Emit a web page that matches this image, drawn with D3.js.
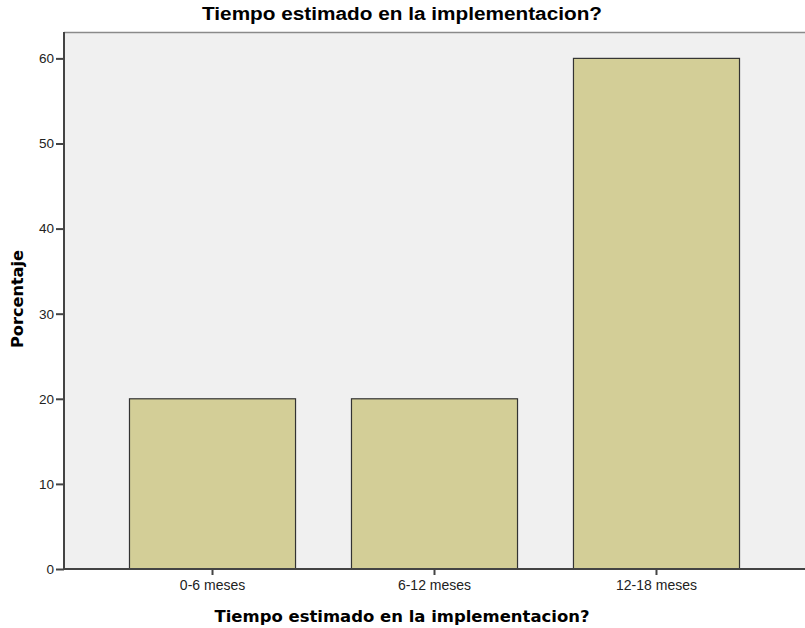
<!DOCTYPE html>
<html>
<head>
<meta charset="utf-8">
<script src="https://cdn.jsdelivr.net/npm/d3@7"></script>
<style>
  body { margin: 0; background: #fff; }
  text { font-family: "Liberation Sans", Arial, sans-serif; }
</style>
</head>
<body>
<svg width="805" height="628"></svg>
<script>
var categories = ["0-6 meses", "6-12 meses", "12-18 meses"];
var values = [20, 20, 60];
var yTicks = [0, 10, 20, 30, 40, 50, 60];

var svg = d3.select("svg");
var plotLeft = 64, plotRight = 805, plotTop = 32, plotBottom = 569;

var x = d3.scaleBand()
    .domain(categories)
    .range([plotLeft, plotRight])
    .paddingInner(0.252)
    .paddingOuter(0.295);

var y = d3.scaleLinear()
    .domain([0, 63.1])
    .range([plotBottom, plotTop]);

// plot background
svg.append("rect")
    .attr("x", plotLeft).attr("y", plotTop)
    .attr("width", plotRight - plotLeft).attr("height", plotBottom - plotTop)
    .style("fill", "#f0f0f0");

svg.append("line")
    .attr("x1", plotLeft).attr("x2", plotRight)
    .attr("y1", plotTop + 0.5).attr("y2", plotTop + 0.5)
    .style("stroke", "#8a8a8a").style("stroke-width", 1.5);

svg.append("g")
    .selectAll("rect")
    .data(values).enter()
    .append("rect")
    .attr("x", function(d, i) { return x(categories[i]); })
    .attr("y", function(d) { return y(d); })
    .attr("width", x.bandwidth())
    .attr("height", function(d) { return y(0) - y(d); })
    .style("fill", "#d3ce97")
    .style("stroke", "#333")
    .style("stroke-width", 1.2);

// y axis
var yAxis = svg.append("g")
    .attr("transform", "translate(" + plotLeft + ",0)")
    .call(d3.axisLeft(y).tickValues(yTicks).tickSize(8).tickSizeOuter(0).tickPadding(2));
yAxis.select(".domain").remove();
yAxis.selectAll("line").style("stroke", "#444").style("stroke-width", 2);
yAxis.selectAll("text").style("font-size", "13.5px").style("fill", "#222");

// x axis
var xAxis = svg.append("g")
    .attr("transform", "translate(0," + plotBottom + ")")
    .call(d3.axisBottom(x).tickSize(6).tickSizeOuter(0).tickPadding(5));
xAxis.select(".domain").remove();
xAxis.selectAll("line").style("stroke", "#444").style("stroke-width", 2);
xAxis.selectAll("text").style("font-size", "14px").style("fill", "#222");

// axis lines
svg.append("line")
    .attr("x1", plotLeft).attr("x2", plotLeft)
    .attr("y1", plotTop).attr("y2", plotBottom + 1)
    .style("stroke", "#444").style("stroke-width", 2);
svg.append("line")
    .attr("x1", plotLeft - 1).attr("x2", plotRight)
    .attr("y1", plotBottom).attr("y2", plotBottom)
    .style("stroke", "#444").style("stroke-width", 2);

// titles
svg.append("text")
    .attr("x", 402).attr("y", 20)
    .attr("text-anchor", "middle")
    .attr("textLength", 400).attr("lengthAdjust", "spacingAndGlyphs")
    .style("font-size", "18px").style("font-weight", "bold")
    .text("Tiempo estimado en la implementacion?");

svg.append("text")
    .attr("x", 402).attr("y", 622)
    .attr("text-anchor", "middle")
    .attr("textLength", 375).attr("lengthAdjust", "spacingAndGlyphs")
    .style("font-family", "'DejaVu Sans', sans-serif")
    .style("font-size", "16px").style("font-weight", "bold")
    .text("Tiempo estimado en la implementacion?");

svg.append("text")
    .attr("transform", "translate(23," + 299 + ") rotate(-90)")
    .attr("text-anchor", "middle")
    .attr("textLength", 98).attr("lengthAdjust", "spacingAndGlyphs")
    .style("font-family", "'DejaVu Sans', sans-serif")
    .style("font-size", "16px").style("font-weight", "bold")
    .text("Porcentaje");
</script>
</body>
</html>
